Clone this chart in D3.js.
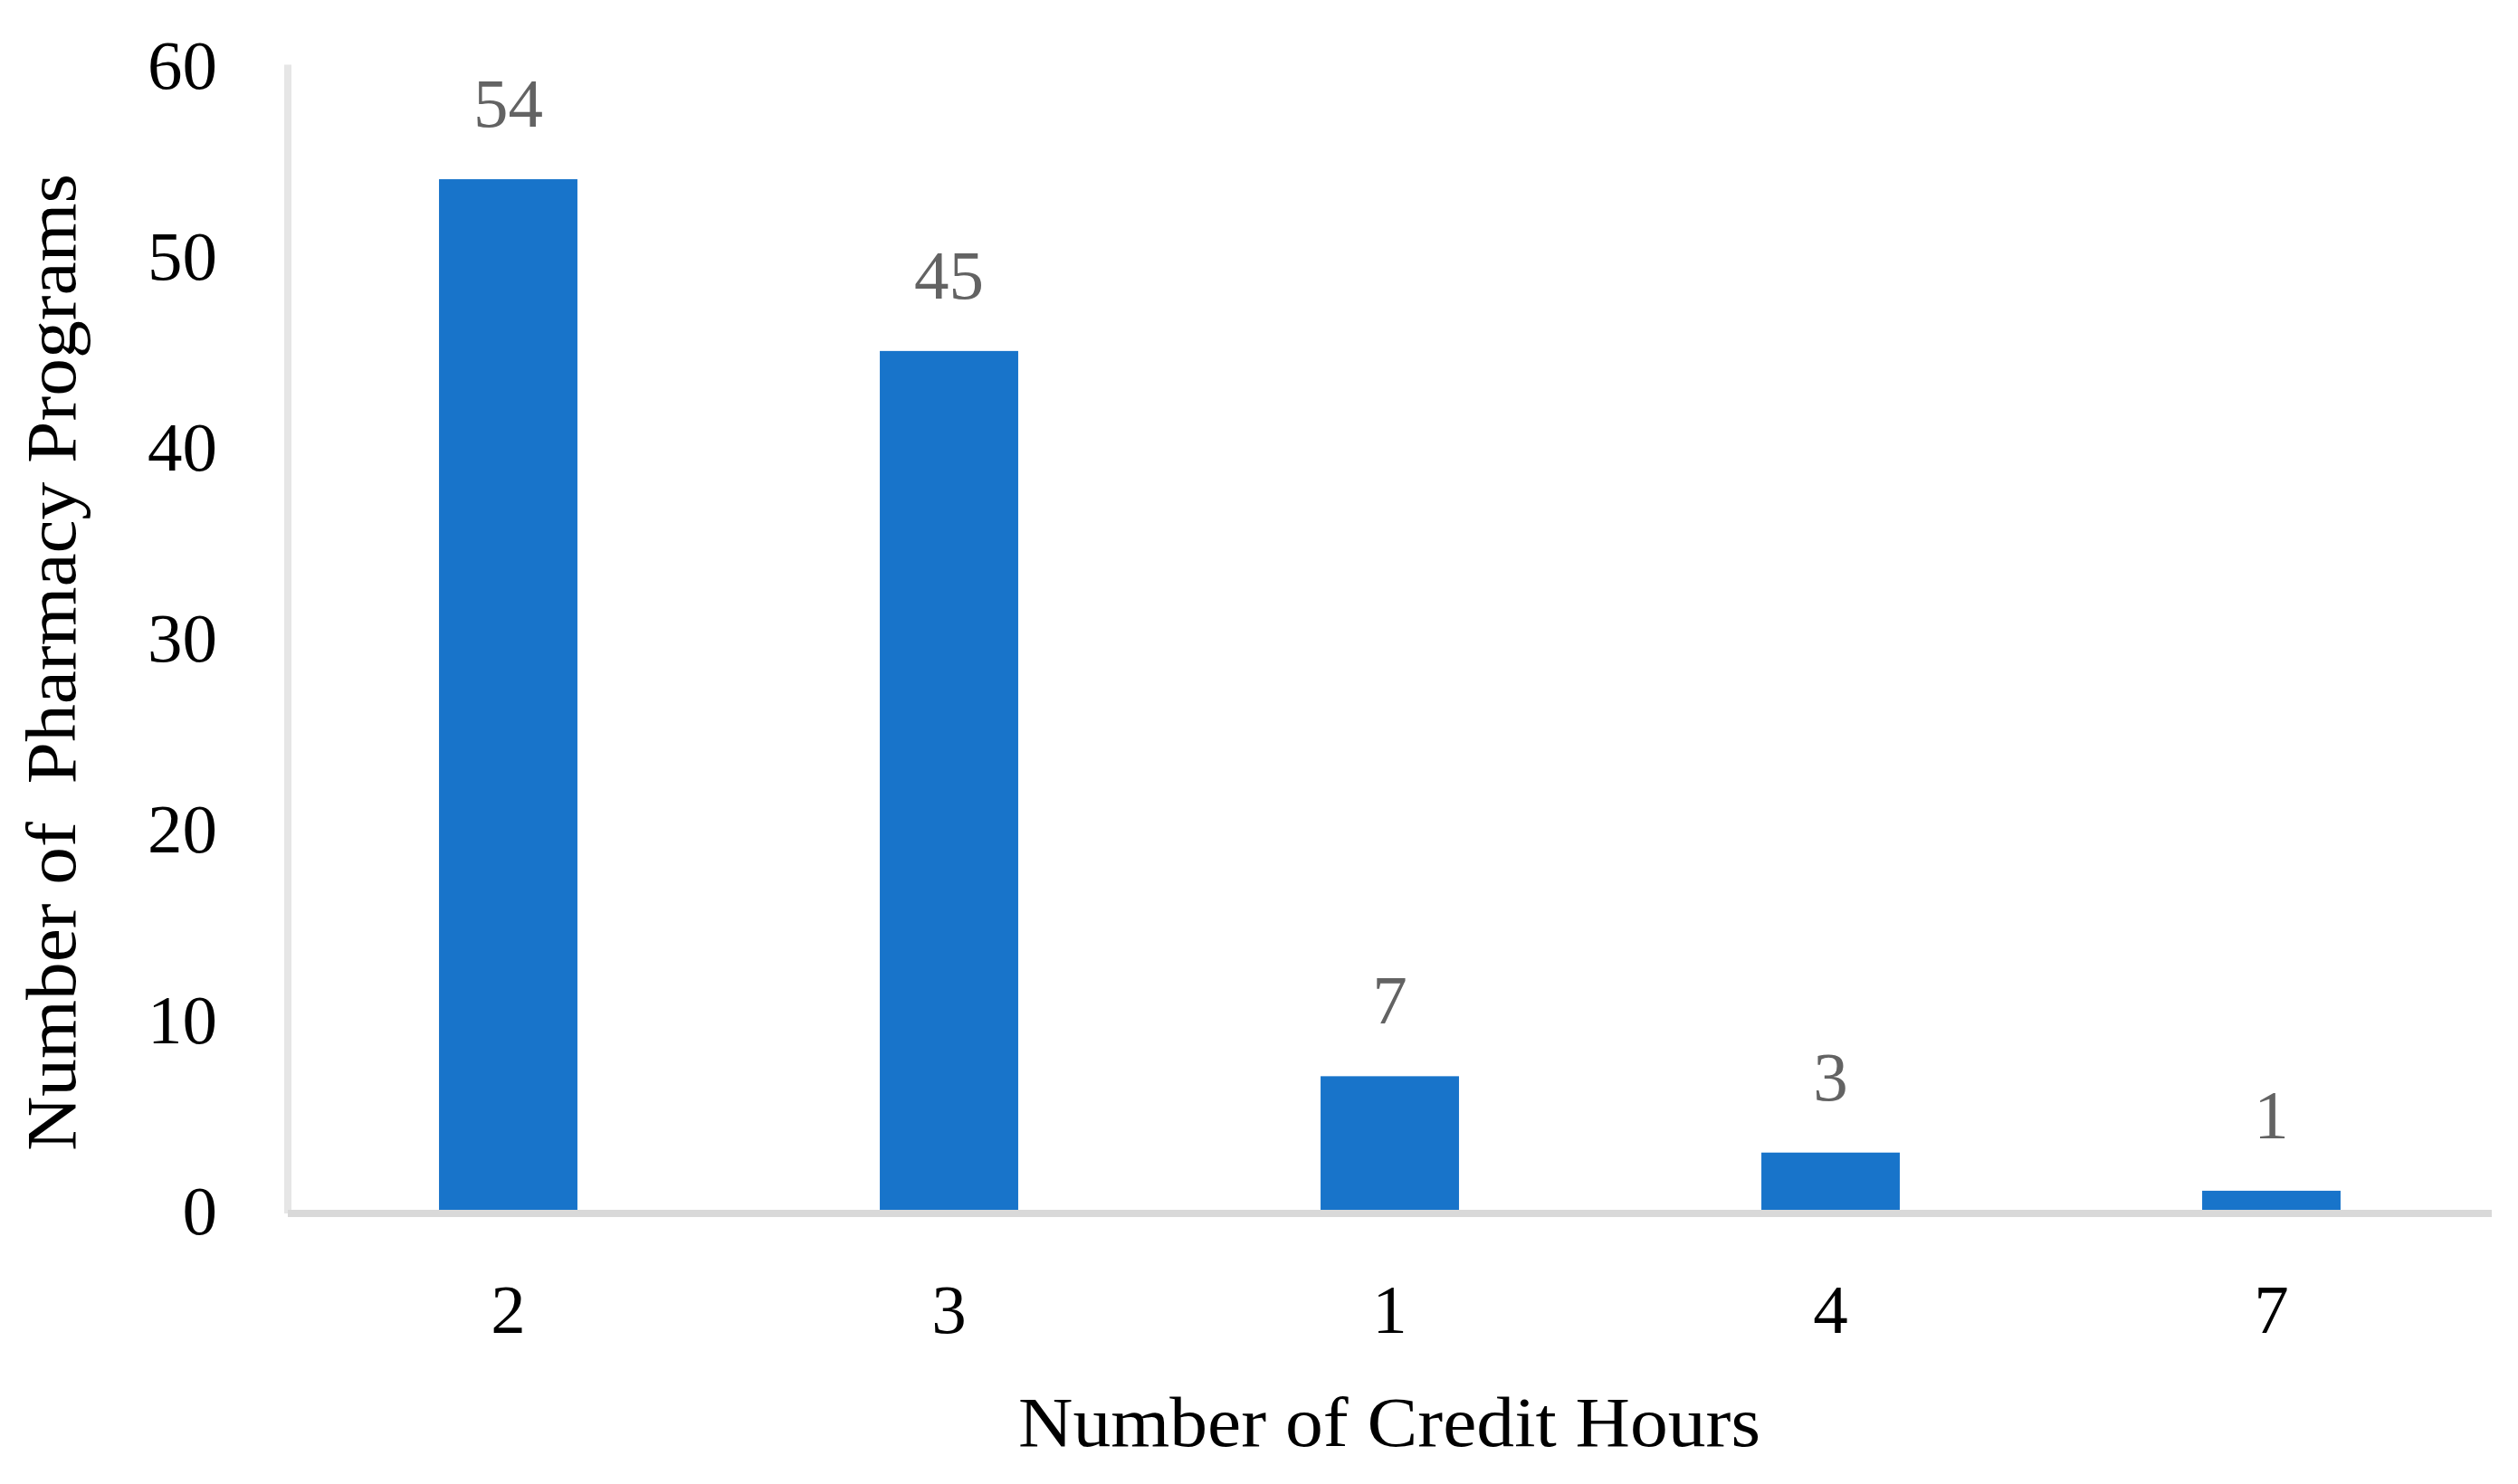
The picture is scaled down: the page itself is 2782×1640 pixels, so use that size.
<!DOCTYPE html>
<html><head><meta charset="utf-8">
<script src="https://cdn.jsdelivr.net/npm/d3@7"></script>
<style>
html,body{margin:0;padding:0;background:#fff;}
svg{display:block;}
text{font-family:"Liberation Serif","Times New Roman",serif;}
</style></head>
<body>
<script>
const categories = ["2", "3", "1", "4", "7"];
const values = [54, 45, 7, 3, 1];
const yTicks = [0, 10, 20, 30, 40, 50, 60];
const xTitle = "Number of Credit Hours";
const yTitle = "Number of  Pharmacy Programs";

const W = 2782, H = 1640;
const svg = d3.select("body").append("svg").attr("width", W).attr("height", H);

const x = d3.scaleBand().domain(categories).range([318, 2753]).paddingInner(0.686).paddingOuter(0.343);
const y = d3.scaleLinear().domain([0, 60]).range([1337, 71.5]);

// y axis line
svg.append("line").attr("x1", 318).attr("x2", 318).attr("y1", y(60)).attr("y2", y(0) + 4)
  .attr("stroke", "#e6e6e6").attr("stroke-width", 8);
// x axis line
svg.append("line").attr("x1", 318).attr("x2", 2753).attr("y1", y(0) + 4).attr("y2", y(0) + 4)
  .attr("stroke", "#d9d9d9").attr("stroke-width", 8);

// bars
svg.selectAll("rect.bar").data(values).join("rect").attr("class", "bar")
  .attr("x", (d, i) => x(categories[i]))
  .attr("width", x.bandwidth())
  .attr("y", d => y(d))
  .attr("height", d => y(0) - y(d))
  .attr("fill", "#1874ca");

// value labels
svg.selectAll("text.val").data(values).join("text").attr("class", "val")
  .attr("x", (d, i) => x(categories[i]) + x.bandwidth() / 2)
  .attr("y", d => y(d) - 58)
  .attr("text-anchor", "middle")
  .attr("font-size", 77)
  .attr("fill", "#636363")
  .text(d => d);

// y tick labels
svg.selectAll("text.ytick").data(yTicks).join("text").attr("class", "ytick")
  .attr("x", 240)
  .attr("y", d => y(d))
  .attr("dy", "0.35em")
  .attr("text-anchor", "end")
  .attr("font-size", 77)
  .attr("fill", "#000")
  .text(d => d);

// x tick labels
svg.selectAll("text.xtick").data(categories).join("text").attr("class", "xtick")
  .attr("x", d => x(d) + x.bandwidth() / 2)
  .attr("y", 1473)
  .attr("text-anchor", "middle")
  .attr("font-size", 77)
  .attr("fill", "#000")
  .text(d => d);

// axis titles
svg.append("text")
  .attr("x", 1535).attr("y", 1598)
  .attr("text-anchor", "middle")
  .attr("font-size", 78)
  .attr("textLength", 820).attr("lengthAdjust", "spacingAndGlyphs")
  .attr("fill", "#000")
  .text(xTitle);

svg.append("text")
  .attr("transform", "translate(83,732) rotate(-90)")
  .attr("text-anchor", "middle")
  .attr("font-size", 78)
  .attr("textLength", 1080).attr("lengthAdjust", "spacingAndGlyphs")
  .attr("fill", "#000")
  .style("white-space", "pre")
  .text(yTitle);
</script>
</body></html>
